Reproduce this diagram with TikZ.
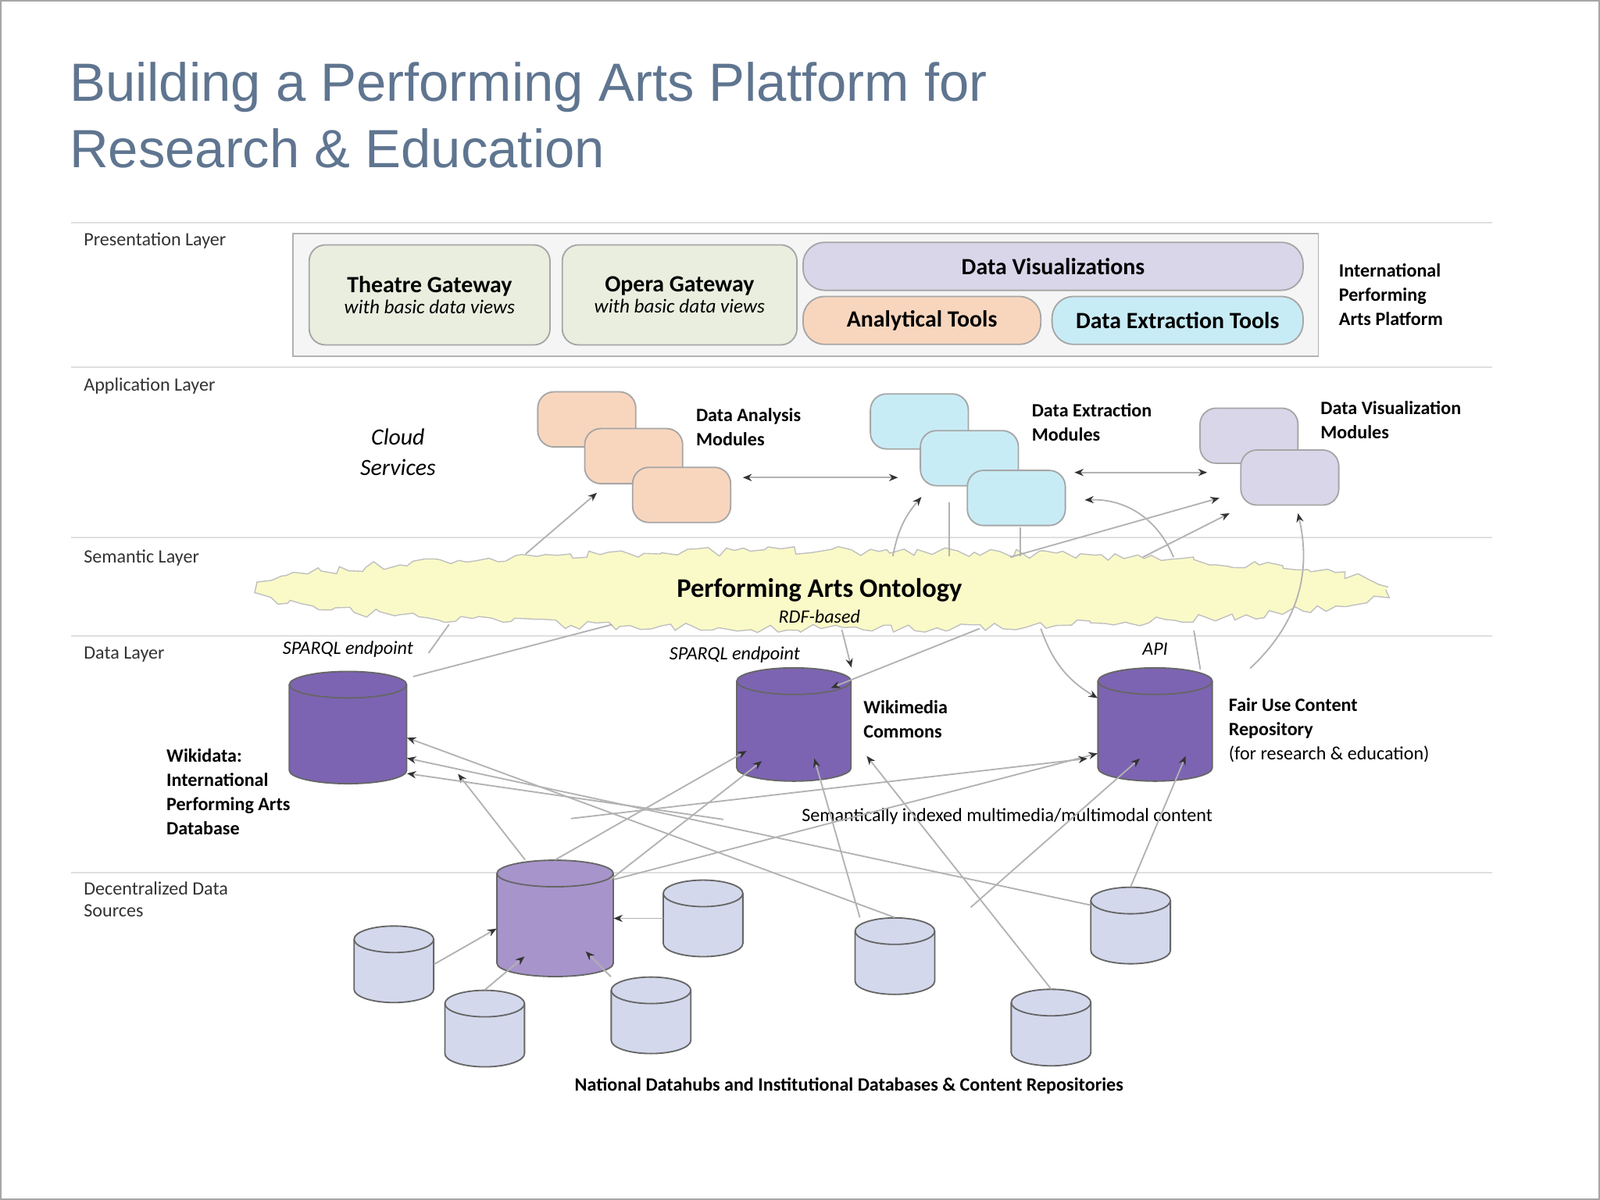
\documentclass[tikz,border=0pt]{standalone}
\usepackage{fontspec}
\setmainfont{Carlito}
\newfontfamily\titlefont{Liberation Sans}
\usetikzlibrary{arrows.meta,decorations.pathmorphing}
\definecolor{titlec}{HTML}{5F7590}
\definecolor{greenb}{HTML}{E9EEDF}
\definecolor{lav}{HTML}{D9D6EA}
\definecolor{peach}{HTML}{F8D6BE}
\definecolor{lblue}{HTML}{C8ECF6}
\definecolor{dpurple}{HTML}{7C64B2}
\definecolor{mpurple}{HTML}{A794CB}
\definecolor{lcyl}{HTML}{D3D8EC}
\definecolor{onto}{HTML}{FAFAC8}
\newcommand\cyl[6]{%
  \node[inner sep=0pt,minimum width=#4*0.02cm,minimum height=#5*0.02cm] (#1) at (#2,#3) {};
  \begin{scope}[shift={(#1.center)},x=0.02cm,y=0.02cm]
    \filldraw[fill=#6,draw=gray!80!black,line width=0.8pt] ({-#4/2},{#5/2-13}) -- ({-#4/2},{-#5/2+13})
      arc[start angle=180,end angle=360,x radius={#4/2},y radius=13] -- ({#4/2},{#5/2-13})
      arc[start angle=0,end angle=180,x radius={#4/2},y radius=13] -- cycle;
    \draw[gray!80!black,line width=0.8pt] ({-#4/2},{#5/2-13}) arc[start angle=180,end angle=360,x radius={#4/2},y radius=13];
  \end{scope}}
\tikzset{
  layer/.style={font=\fontsize{10.5}{12}\selectfont,anchor=north west,align=left,text=black!80},
  rbox/.style={draw=gray!70,rounded corners=9pt,line width=0.8pt,inner sep=0pt},
  mod/.style={rbox,minimum width=96*0.02cm,minimum height=54*0.02cm},
  lab/.style={font=\bfseries\fontsize{10.5}{13.5}\selectfont,anchor=north west,align=left},
  it/.style={font=\itshape\fontsize{10.5}{12}\selectfont},
  arr/.style={gray!60,line width=0.8pt,-{Stealth[length=5pt,width=4pt,black!80]}},
  darr/.style={gray!60,line width=0.8pt,{Stealth[length=5pt,width=4pt,black!80]}-{Stealth[length=5pt,width=4pt,black!80]}},
}
\begin{document}
\begin{tikzpicture}[x=0.02cm,y=-0.02cm]
\useasboundingbox (0,0) rectangle (1568,1176);
\fill[white] (0,0) rectangle (1568,1176);
\draw[gray!70,line width=1pt] (1,1) rectangle (1567,1175);
\node[anchor=north west,align=left,text=titlec,font=\titlefont\fontsize{30}{37}\selectfont] (title) at (62,55) {Building a Performing Arts Platform for\\Research \& Education};
% layer lines
\foreach \y in {218,360,527,623,855} \draw[gray!25,line width=1pt] (70,\y) -- (1462,\y);
\node[layer] (l1) at (76,222) {Presentation Layer};
\node[layer] (l2) at (76,364) {Application Layer};
\node[layer] (l3) at (76,533) {Semantic Layer};
\node[layer] (l4) at (76,628) {Data Layer};
\node[layer] (l5) at (76,858) {Decentralized Data\\Sources};
% presentation
\node[draw=gray!60,fill=gray!8,line width=0.8pt,minimum width=1005*0.02cm,minimum height=120*0.02cm,inner sep=0] (plat) at (789.5,289) {};
\node[rbox,fill=greenb,minimum width=236*0.02cm,minimum height=98*0.02cm,align=center] (tg) at (421,289) {{\bfseries\fontsize{13}{16}\selectfont Theatre Gateway}\\{\itshape\fontsize{11}{14}\selectfont with basic data views}};
\node[rbox,fill=greenb,minimum width=230*0.02cm,minimum height=98*0.02cm,align=center] (og) at (666,289) {{\bfseries\fontsize{13}{16}\selectfont Opera Gateway}\\{\itshape\fontsize{11}{14}\selectfont with basic data views}};
\node[rbox,rounded corners=12pt,fill=lav,minimum width=490*0.02cm,minimum height=47*0.02cm,font=\bfseries\fontsize{13}{16}\selectfont] (dv) at (1032,261) {Data Visualizations};
\node[rbox,rounded corners=12pt,fill=peach,minimum width=233*0.02cm,minimum height=47*0.02cm,font=\bfseries\fontsize{13}{16}\selectfont] (at) at (903.5,314) {Analytical Tools};
\node[rbox,rounded corners=12pt,fill=lblue,minimum width=246*0.02cm,minimum height=47*0.02cm,font=\bfseries\fontsize{13}{16}\selectfont] (det) at (1154,314) {Data Extraction Tools};
\node[lab] (iap) at (1306,252) {International\\Performing\\Arts Platform};
% application
\node[it,align=center,font=\itshape\fontsize{13}{17}\selectfont] (cs) at (390,443) {Cloud\\Services};
\node[mod,fill=peach] (a1) at (575,411) {};
\node[mod,fill=peach] (a2) at (621,447) {};
\node[mod,fill=peach] (a3) at (668,485) {};
\node[lab] (al) at (676,394) {Data Analysis\\Modules};
\node[mod,fill=lblue] (e1) at (901,413) {};
\node[mod,fill=lblue] (e2) at (950,449) {};
\node[mod,fill=lblue] (e3) at (996,488) {};
\node[lab] (el) at (1005,389) {Data Extraction\\Modules};
\node[mod,fill=lav] (v1) at (1224,427) {};
\node[mod,fill=lav] (v2) at (1264,468) {};
\node[lab] (vl) at (1288,387) {Data Visualization\\Modules};
\coordinate (p1) at (728,468); \coordinate (p2) at (880,468);
\coordinate (p3) at (1053,463); \coordinate (p4) at (1183,463);
\draw[darr] (p1) -- (p2);
\draw[darr] (p3) -- (p4);
% semantic
\draw[fill=onto,draw=gray!50,line width=0.6pt,decoration={random steps,segment length=5pt,amplitude=2.5pt},decorate] (805,578) ellipse[x radius=553,y radius=38];
\node[font=\bfseries\fontsize{15}{18}\selectfont] (ont) at (803,578) {Performing Arts Ontology};
\node[it] (rdf) at (803,604) {RDF-based};
% data layer
\cyl{wd}{341}{713}{115}{110}{dpurple}
\cyl{wc}{778}{710}{112}{111}{dpurple}
\cyl{fu}{1132}{710}{112}{111}{dpurple}
\node[it] (s1) at (341,636) {SPARQL endpoint};
\node[it] (s2) at (720,642) {SPARQL endpoint};
\node[it] (api) at (1132,636) {API};
\node[lab] (wdl) at (157,728) {Wikidata:\\International\\Performing Arts\\Database};
\node[lab] (wcl) at (840,680) {Wikimedia\\Commons};
\node[lab,anchor=north west] (ful) at (1198,678) {Fair Use Content\\Repository\\\mdseries (for research \& education)};
\node[font=\fontsize{10.5}{12}\selectfont] (sem) at (987,800) {Semantically indexed multimedia/multimodal content};
% decentralized
\cyl{big}{544}{900}{114}{114}{mpurple}
\cyl{c1}{386}{945}{78}{75}{lcyl}
\cyl{c2}{689}{900}{78}{75}{lcyl}
\cyl{c3}{475}{1008}{78}{75}{lcyl}
\cyl{c4}{638}{995}{78}{75}{lcyl}
\cyl{c5}{877}{937}{78}{75}{lcyl}
\cyl{c6}{1108}{907}{78}{75}{lcyl}
\cyl{c7}{1030}{1007}{78}{75}{lcyl}
\node[font=\bfseries\fontsize{10.5}{12}\selectfont] (nat) at (832,1064) {National Datahubs and Institutional Databases \& Content Repositories};
% arrows: ontology to modules
\coordinate (o1) at (515,543); \coordinate (m1) at (585,483);
\coordinate (o2) at (875,545); \coordinate (m2) at (903,487);
\coordinate (o3) at (1120,546); \coordinate (m3) at (1205,503);
\coordinate (o4) at (990,546); \coordinate (m4) at (1195,488);
\coordinate (o5) at (1150,546); \coordinate (m5) at (1063,490);
\coordinate (o6) at (1225,655); \coordinate (m6) at (1272,503);
\coordinate (o7) at (930,545); \coordinate (m7) at (930,492);
\coordinate (o8) at (1000,545); \coordinate (m8) at (1000,517);
\draw[arr] (o1) -- (m1);
\draw[arr] (o2) to[bend left=15] (m2);
\draw[arr] (o3) -- (m3);
\draw[arr] (o4) -- (m4);
\draw[arr] (o5) to[bend right=35] (m5);
\draw[arr] (o6) to[bend right=30] (m6);
\draw[gray!60,line width=0.8pt] (m7) -- (o7) (m8) -- (o8);
% data layer to/from ontology
\coordinate (d1) at (405,663); \coordinate (u1) at (600,612);
\coordinate (d2) at (420,640); \coordinate (u2) at (440,612);
\coordinate (u3) at (825,617); \coordinate (u4) at (960,616); \coordinate (u5) at (1020,616);
\coordinate (u6) at (1170,618);
\draw[gray!60,line width=0.8pt] (d1) -- (u1) (d2) -- (u2) (fu.north east) ++(-12,2) -- (u6);
\draw[arr] (u3) -- (wc.north east);
\draw[arr] (u4) -- ([xshift=-0.4cm,yshift=-0.4cm]wc.north east);
\draw[arr] (u5) to[bend right=20] ([yshift=-0.6cm]fu.north west);
% decentralized to data layer
\draw[arr] (big.north west) ++(28,0) coordinate (b1) -- ([xshift=1cm,yshift=0.2cm]wd.south east);
\draw[arr] (big.north) -- ([xshift=0.2cm,yshift=0.6cm]wc.south west);
\draw[arr] (big.east) ++(0,-38) coordinate (b3) -- ([yshift=0.55cm]fu.south west);
\draw[arr] (c5.north) -- ([yshift=-0.2cm]wd.east);
\draw[arr] (c6.west) ++(0,-20) coordinate (b6) -- ([yshift=-0.6cm]wd.east);
\draw[arr] (c7.north) -- ([xshift=0.3cm,yshift=0.5cm]wc.south east);
\draw[arr] (c5.north west) ++(5,0) coordinate (b5) -- ([xshift=0.4cm,yshift=0.45cm]wc.south);
\draw[arr] (c5.north east) ++(35,-10) coordinate (b7) -- ([xshift=-0.3cm,yshift=0.45cm]fu.south);
\draw[arr] (c6.north) -- ([xshift=0.6cm,yshift=0.5cm]fu.south);
\draw[arr] (c4.north) ++(-40,-95) coordinate (b8) -- ([xshift=0.5cm,yshift=0.4cm]wc.south west);
\draw[arr] (wd.east) ++(310,90) coordinate (b9) -- ([yshift=-0.9cm]wd.east);
\draw[arr] (c2.north west) ++(-90,-60) coordinate (b10) -- ([xshift=-0.2cm,yshift=0.45cm]fu.south west);
% sources to big
\draw[arr] (c1.east) -- ([yshift=-0.2cm]big.west);
\draw[arr] (c2.west) -- (big.east);
\draw[arr] (c3.north) -- ([xshift=-0.6cm,yshift=0.4cm]big.south);
\draw[arr] (c4.north west) -- ([xshift=0.6cm,yshift=0.5cm]big.south);
\end{tikzpicture}
\end{document}
